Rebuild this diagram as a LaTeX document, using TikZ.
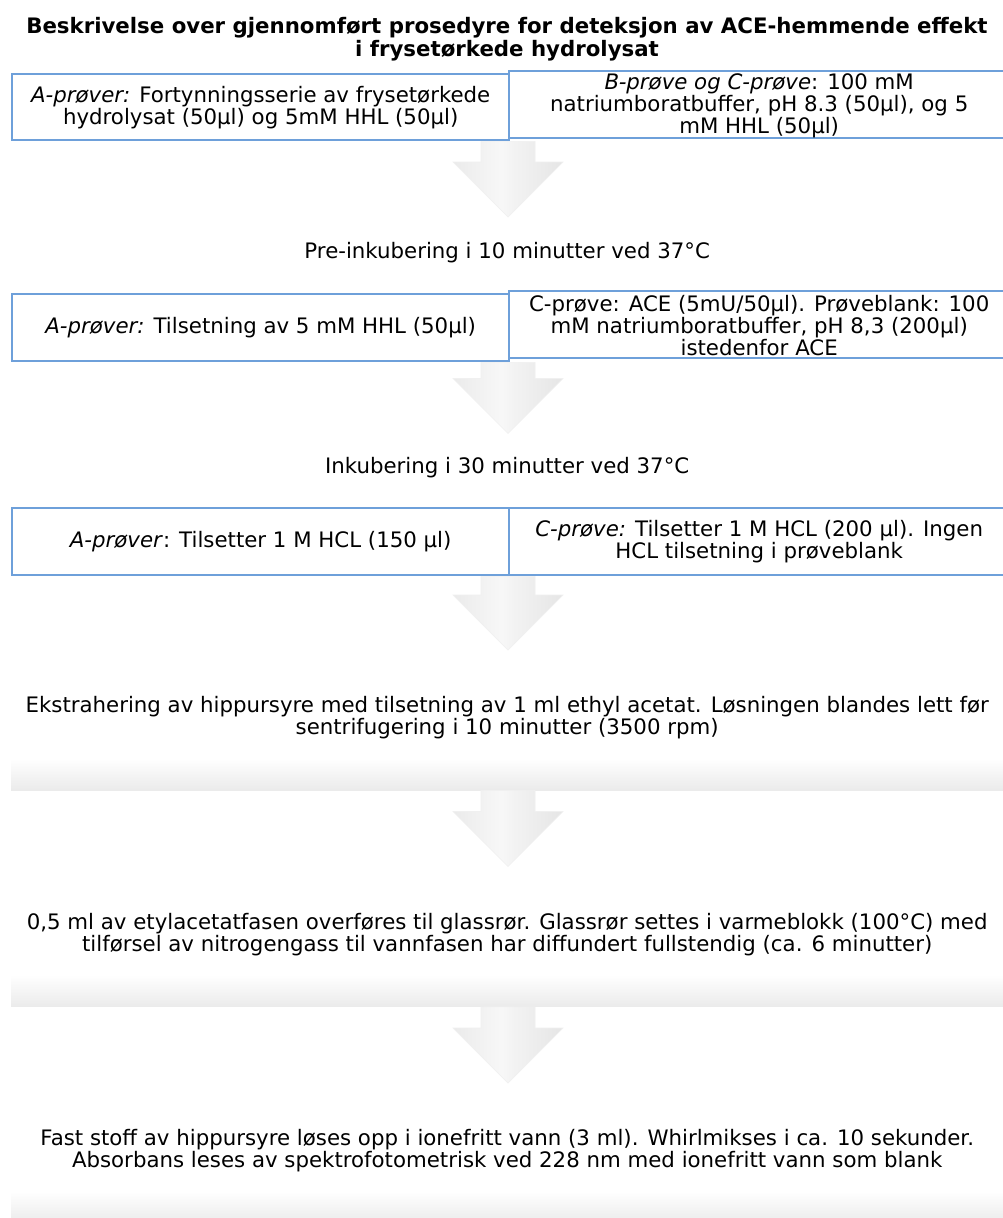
\documentclass[tikz,border=0pt]{standalone}
\usepackage{fontspec}
\setmainfont{DejaVu Sans}[ItalicFont={DejaVu Sans Oblique},BoldFont={DejaVu Sans Bold},BoldItalicFont={DejaVu Sans Bold Oblique}]
\usetikzlibrary{calc}

\definecolor{cellblue}{RGB}{110,160,218}
% stage panel: white with a soft grey band towards the lower edge
\pgfdeclareverticalshading{panelfade}{100bp}{color(0bp)=(black!8); color(25bp)=(black!8);
  color(36bp)=(white); color(100bp)=(white)}
% process arrow: light grey edges, pale middle
\pgfdeclarehorizontalshading{arrowfade}{100bp}{color(0bp)=(black!8); color(25bp)=(black!8);
  color(47bp)=(black!3); color(53bp)=(black!5); color(75bp)=(black!10); color(100bp)=(black!10)}

\newcommand\bodysize{\fontsize{21.3}{22}\selectfont}

\tikzset{
  every node/.style={font=\bodysize, text=black},
  cell/.style={draw=cellblue, line width=2.4pt, fill=white, inner sep=0pt,
    anchor=north west},
  celltext/.style={align=center, inner sep=0pt},
  panel/.style={shade, shading=panelfade, inner sep=0pt, anchor=north west,
    minimum width=992pt, minimum height=145pt},
  plainpanel/.style={inner sep=0pt, anchor=north west, minimum width=992pt},
  paneltext/.style={align=center, inner sep=0pt},
  blockarrowstyle/.style={shade, shading=arrowfade, draw=black!6, line width=0.6pt}
}

% broad downward process arrow: shaft from the height of #1 to the tip #2
\newcommand\processarrow[2]{%
  \path[blockarrowstyle] let \p1=(#1), \p2=(#2) in
    (\x2-27pt,\y1) -- (\x2+27pt,\y1) -- (\x2+27pt,\y2+55pt) -- (\x2+55pt,\y2+55pt)
    -- (\x2,\y2) -- (\x2-55pt,\y2+55pt) -- (\x2-27pt,\y2+55pt) -- cycle;}

\begin{document}
\begin{tikzpicture}[x=1pt,y=-1pt]
\useasboundingbox[fill=white] (0,0) rectangle (1003,1218);

% arrow tips, one stage apart
\coordinate (t1) at (508,217);
\coordinate (t2) at (508,433.5);
\coordinate (t3) at (508,650);
\coordinate (t4) at (508,866.5);
\coordinate (t5) at (508,1083);

% stage panels: the two incubation stages end at the next row of cells
\node[plainpanel, minimum height=81pt] (p1) at ([xshift=-497pt,yshift=5pt]t1) {};
\node[plainpanel, minimum height=78.5pt] (p2) at ([xshift=-497pt,yshift=5pt]t2) {};
\node[panel] (p3) at ([xshift=-497pt,yshift=5pt]t3) {};
\node[panel] (p4) at ([xshift=-497pt,yshift=5pt]t4) {};
\node[panel] (p5) at ([xshift=-497pt,yshift=5pt]t5) {};

% sample cells, first row
\node[cell, minimum width=497pt, minimum height=66pt] (a1) at (11,73) {};
\node[cell, minimum width=500pt, minimum height=67pt] (b1) at (508,70) {};

% process arrows between the single-step stages
\processarrow{a1.south east}{t1}
\processarrow{p3.south}{t4}
\processarrow{p4.south}{t5}

% second and third rows
\node[cell, minimum width=497pt, minimum height=67pt] (a2) at (11,293) {};
\node[cell, minimum width=500pt, minimum height=67pt] (b2) at (508,290) {};
\processarrow{a2.south east}{t2}
\node[cell, minimum width=497pt, minimum height=67pt] (a3) at (11,507) {};
\node[cell, minimum width=500pt, minimum height=67pt] (b3) at (508,507) {};
\processarrow{a3.south east}{t3}

% cell texts
\node[celltext] (a1t) at (a1.center)
  {\textit{A-prøver:} Fortynningsserie av frysetørkede\\ hydrolysat (50µl) og 5mM HHL (50µl)};
\node[celltext] (b1t) at ([yshift=-1pt]b1.center)
  {\textit{B-prøve og C-prøve}: 100 mM\\ natriumboratbuffer, pH 8.3 (50µl), og 5\\ mM HHL (50µl)};
\node[celltext] (a2t) at (a2.center) {\textit{A-prøver:} Tilsetning av 5 mM HHL (50µl)};
\node[celltext] (b2t) at ([yshift=-1pt]b2.center)
  {C-prøve: ACE (5mU/50µl). Prøveblank: 100\\ mM natriumboratbuffer, pH 8,3 (200µl)\\ istedenfor ACE};
\node[celltext] (a3t) at (a3.center) {\textit{A-prøver}: Tilsetter 1 M HCL (150 µl)};
\node[celltext] (b3t) at (b3.center)
  {\textit{C-prøve:} Tilsetter 1 M HCL (200 µl). Ingen\\ HCL tilsetning i prøveblank};

% stage texts, centred in their panels
\node[paneltext] (s1) at (p1.center) {Pre-inkubering i 10 minutter ved 37°C};
\node[paneltext] (s2) at (p2.center) {Inkubering i 30 minutter ved 37°C};
\node[paneltext] (s3) at (p3.center)
  {Ekstrahering av hippursyre med tilsetning av 1 ml ethyl acetat. Løsningen blandes lett før\\
   sentrifugering i 10 minutter (3500 rpm)};
\node[paneltext] (s4) at (p4.center)
  {0,5 ml av etylacetatfasen overføres til glassrør. Glassrør settes i varmeblokk (100°C) med\\
   tilførsel av nitrogengass til vannfasen har diffundert fullstendig (ca. 6 minutter)};
\node[paneltext] (s5) at (p5.center)
  {Fast stoff av hippursyre løses opp i ionefritt vann (3 ml). Whirlmikses i ca. 10 sekunder.\\
   Absorbans leses av spektrofotometrisk ved 228 nm med ionefritt vann som blank};

% heading
\node[font=\fontsize{21.3}{22.5}\selectfont\bfseries, align=center] (title) at (507,39)
  {Beskrivelse over gjennomført prosedyre for deteksjon av ACE-hemmende effekt\\
   i frysetørkede hydrolysat};
\end{tikzpicture}
\end{document}
